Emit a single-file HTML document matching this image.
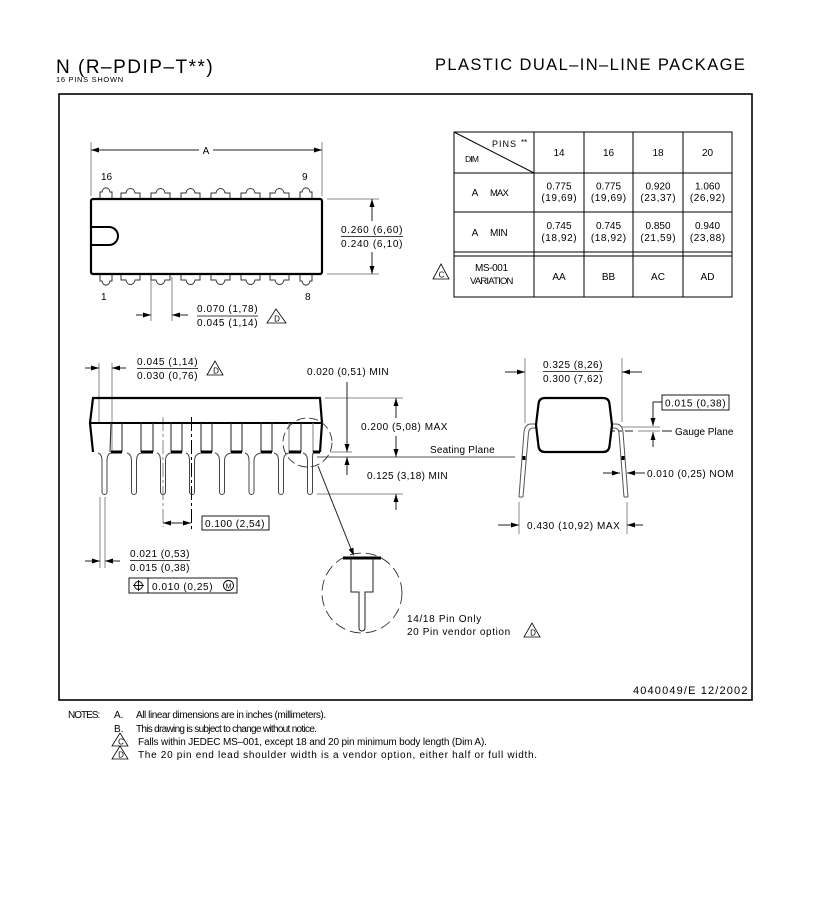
<!DOCTYPE html>
<html><head><meta charset="utf-8"><style>
html,body{margin:0;padding:0;background:#fff;}
svg{display:block;}
text{font-family:"Liberation Sans",Arial,sans-serif;fill:#000;}
</style></head><body>
<svg width="813" height="897" viewBox="0 0 813 897" xmlns="http://www.w3.org/2000/svg">
<rect x="0" y="0" width="813" height="897" fill="#fff"/>

<!-- Titles -->
<text x="56" y="73" font-size="19" letter-spacing="1.5">N (R–PDIP–T**)</text>
<text x="56" y="82" font-size="7.5" letter-spacing="0.7">16 PINS SHOWN</text>
<text x="435" y="70" font-size="16.5" letter-spacing="1.4">PLASTIC DUAL–IN–LINE PACKAGE</text>

<!-- Frame -->
<rect x="59" y="94" width="693" height="606" fill="none" stroke="#000" stroke-width="1.6"/>

<!-- ================= TOP VIEW ================= -->
<g stroke="#888" stroke-width="1" fill="none">
  <line x1="91" y1="142" x2="91" y2="196"/>
  <line x1="322" y1="142" x2="322" y2="196"/>
  <line x1="327" y1="199" x2="379" y2="199"/>
  <line x1="327" y1="274" x2="379" y2="274"/>
  <line x1="151" y1="277" x2="151" y2="321"/>
  <line x1="172" y1="277" x2="172" y2="321"/>
</g>
<g stroke="#222" stroke-width="1" fill="none">
  <line x1="91" y1="150" x2="199" y2="150"/>
  <line x1="213" y1="150" x2="322" y2="150"/>
  <line x1="372" y1="199" x2="372" y2="221"/>
  <line x1="372" y1="252" x2="372" y2="274"/>
  <line x1="136" y1="315" x2="151" y2="315"/>
  <line x1="172" y1="315" x2="188" y2="315"/>
</g>
<g fill="#000">
  <polygon points="91,150 99,147.5 99,152.5"/>
  <polygon points="322,150 314,147.5 314,152.5"/>
  <polygon points="372,199 369.5,207 374.5,207"/>
  <polygon points="372,274 369.5,266 374.5,266"/>
  <polygon points="151,315 143,312.5 143,317.5"/>
  <polygon points="172,315 180,312.5 180,317.5"/>
</g>
<text x="206" y="154" font-size="10" text-anchor="middle">A</text>
<text x="101" y="180" font-size="10">16</text>
<text x="302" y="180" font-size="10">9</text>
<text x="101" y="300" font-size="10">1</text>
<text x="305" y="300" font-size="10">8</text>

<!-- pins -->
<g stroke="#333" stroke-width="1" fill="none">
  <path d="M100,199 V192 H102 C103,186.5 109,186.5 110,192 H112 V199"/>
  <path d="M121,199 V193 H126 C127,187 134,187 135,193 H140 V199"/>
  <path d="M151,199 V193 H156 C157,187 164,187 165,193 H170 V199"/>
  <path d="M181,199 V193 H186 C187,187 194,187 195,193 H200 V199"/>
  <path d="M211,199 V193 H216 C217,187 224,187 225,193 H230 V199"/>
  <path d="M241,199 V193 H246 C247,187 254,187 255,193 H260 V199"/>
  <path d="M270,199 V193 H275 C276,187 283,187 284,193 H289 V199"/>
  <path d="M300,199 V192 H302 C303,186.5 309,186.5 310,192 H312 V199"/>
  <path d="M100,274 V281 H102 C103,286.5 109,286.5 110,281 H112 V274"/>
  <path d="M121,274 V280 H126 C127,286 134,286 135,280 H140 V274"/>
  <path d="M151,274 V280 H156 C157,286 164,286 165,280 H170 V274"/>
  <path d="M181,274 V280 H186 C187,286 194,286 195,280 H200 V274"/>
  <path d="M211,274 V280 H216 C217,286 224,286 225,280 H230 V274"/>
  <path d="M241,274 V280 H246 C247,286 254,286 255,280 H260 V274"/>
  <path d="M270,274 V280 H275 C276,286 283,286 284,280 H289 V274"/>
  <path d="M300,274 V281 H302 C303,286.5 309,286.5 310,281 H312 V274"/>
</g>
<rect x="91" y="199" width="231" height="75" rx="2" fill="#fff" stroke="#000" stroke-width="2.2"/>
<path d="M91,227 H109 A9,9 0 0 1 109,245 H91" fill="none" stroke="#000" stroke-width="2"/>

<text x="341" y="233" font-size="10" letter-spacing="0.68">0.260 (6,60)</text>
<line x1="341" y1="236.5" x2="403" y2="236.5" stroke="#000" stroke-width="0.8"/>
<text x="341" y="247" font-size="10" letter-spacing="0.68">0.240 (6,10)</text>

<text x="197" y="312" font-size="10" letter-spacing="0.6">0.070 (1,78)</text>
<line x1="197" y1="316" x2="258" y2="316" stroke="#000" stroke-width="0.8"/>
<text x="197" y="326" font-size="10" letter-spacing="0.6">0.045 (1,14)</text>
<polygon points="276,309 267,323 286,323" fill="none" stroke="#000" stroke-width="0.8"/>
<text x="277" y="321.5" font-size="8" text-anchor="middle">D</text>

<!-- ================= TABLE ================= -->
<g stroke="#000" stroke-width="1" fill="none">
  <rect x="454" y="132" width="278" height="165"/>
  <line x1="534" y1="132" x2="534" y2="297"/>
  <line x1="584" y1="132" x2="584" y2="297"/>
  <line x1="633" y1="132" x2="633" y2="297"/>
  <line x1="683" y1="132" x2="683" y2="297"/>
  <line x1="454" y1="173" x2="732" y2="173"/>
  <line x1="454" y1="212" x2="732" y2="212"/>
  <line x1="454" y1="252" x2="732" y2="252"/>
  <line x1="454" y1="256" x2="732" y2="256"/>
  <line x1="454" y1="132" x2="534" y2="173"/>
</g>
<text x="492" y="147" font-size="9" letter-spacing="1">PINS</text>
<text x="521" y="145" font-size="8">**</text>
<text x="465" y="162" font-size="8.5" letter-spacing="-0.8">DIM</text>
<g font-size="10" text-anchor="middle">
  <text x="559" y="156">14</text>
  <text x="608.5" y="156">16</text>
  <text x="658" y="156">18</text>
  <text x="707.5" y="156">20</text>

  <text x="475" y="196">A</text>
  <text x="559" y="189.5">0.775</text><text x="559.3" y="201" letter-spacing="0.6">(19,69)</text>
  <text x="608.5" y="189.5">0.775</text><text x="608.8" y="201" letter-spacing="0.6">(19,69)</text>
  <text x="658" y="189.5">0.920</text><text x="658.3" y="201" letter-spacing="0.6">(23,37)</text>
  <text x="707.5" y="189.5">1.060</text><text x="707.8" y="201" letter-spacing="0.6">(26,92)</text>

  <text x="475" y="236">A</text>
  <text x="559" y="229">0.745</text><text x="559.3" y="241" letter-spacing="0.6">(18,92)</text>
  <text x="608.5" y="229">0.745</text><text x="608.8" y="241" letter-spacing="0.6">(18,92)</text>
  <text x="658" y="229">0.850</text><text x="658.3" y="241" letter-spacing="0.6">(21,59)</text>
  <text x="707.5" y="229">0.940</text><text x="707.8" y="241" letter-spacing="0.6">(23,88)</text>

  <text x="559" y="280">AA</text>
  <text x="608.5" y="280">BB</text>
  <text x="658" y="280">AC</text>
  <text x="707.5" y="280">AD</text>
</g>
<text x="490" y="196" font-size="9.5" letter-spacing="-0.9">MAX</text>
<text x="490" y="236" font-size="10" letter-spacing="-0.3">MIN</text>
<text x="475" y="271" font-size="10" letter-spacing="-0.4">MS-001</text>
<text x="470" y="284" font-size="9.5" letter-spacing="-0.8">VARIATION</text>
<polygon points="441,264 433,279 449,279" fill="none" stroke="#000" stroke-width="0.8"/>
<text x="441.5" y="277.5" font-size="8" text-anchor="middle">C</text>

<!-- ================= SIDE VIEW ================= -->
<g stroke="#888" stroke-width="1" fill="none">
  <line x1="99" y1="363" x2="99" y2="423"/>
  <line x1="112" y1="363" x2="112" y2="451"/>
  <line x1="100" y1="497" x2="100" y2="568"/>
  <line x1="105" y1="497" x2="105" y2="568"/>
  <line x1="163" y1="417" x2="163" y2="527" stroke-dasharray="14,3,3,3"/>
  <line x1="325" y1="398" x2="403" y2="398"/>
  <line x1="330" y1="452" x2="352" y2="452"/>
  <line x1="317" y1="494" x2="403" y2="494"/>
</g>
<line x1="191.5" y1="417" x2="191.5" y2="532" stroke="#000" stroke-width="1" stroke-dasharray="14,3,3,3"/>
<line x1="317" y1="457" x2="515" y2="457" stroke="#555" stroke-width="1"/>

<path d="M93,452 L90,423 L93,398 L320,398 L322,423 L320,452" fill="none" stroke="#000" stroke-width="2.2"/>
<line x1="90" y1="423" x2="322" y2="423" stroke="#000" stroke-width="2"/>

<g stroke="#333" stroke-width="1.1" fill="none">
  <line x1="111" y1="423" x2="110" y2="452"/><line x1="122" y1="423" x2="122" y2="452"/>
  <line x1="141" y1="423" x2="141" y2="452"/><line x1="153" y1="423" x2="153" y2="452"/>
  <line x1="171" y1="423" x2="171" y2="452"/><line x1="182" y1="423" x2="182" y2="452"/>
  <line x1="201" y1="423" x2="201" y2="452"/><line x1="212" y1="423" x2="212" y2="452"/>
  <line x1="231" y1="423" x2="231" y2="452"/><line x1="242" y1="423" x2="242" y2="452"/>
  <line x1="261" y1="423" x2="261" y2="452"/><line x1="272" y1="423" x2="272" y2="452"/>
  <line x1="289" y1="423" x2="289" y2="452" stroke="#888"/><line x1="301" y1="423" x2="301" y2="452"/>
  <line x1="313" y1="423" x2="313" y2="452" stroke="#888"/>
</g>
<g stroke="#000" stroke-width="3">
  <line x1="111" y1="452" x2="122" y2="452"/>
  <line x1="141" y1="452" x2="153" y2="452"/>
  <line x1="171" y1="452" x2="182" y2="452"/>
  <line x1="201" y1="452" x2="212" y2="452"/>
  <line x1="231" y1="452" x2="242" y2="452"/>
  <line x1="261" y1="452" x2="272" y2="452"/>
  <line x1="289" y1="452" x2="301" y2="452"/>
  <line x1="313" y1="452" x2="320" y2="452"/>
</g>
<g stroke="#444" stroke-width="1" fill="none">
  <path d="M98,453 Q102,454 102,461 V492 A2.5,2.5 0 0 0 107,492 V461 Q107,454 111,453"/>
  <path d="M127,453 Q131.5,454 131.5,461 V492 A2.5,2.5 0 0 0 136.5,492 V461 Q136.5,454 141,453"/>
  <path d="M157,453 Q160.5,454 160.5,461 V492 A2.5,2.5 0 0 0 165.5,492 V461 Q165.5,454 171,453"/>
  <path d="M186,453 Q189.5,454 189.5,461 V492 A2.5,2.5 0 0 0 194.5,492 V461 Q194.5,454 201,453"/>
  <path d="M215,453 Q219.5,454 219.5,461 V492 A2.5,2.5 0 0 0 224.5,492 V461 Q224.5,454 231,453"/>
  <path d="M245,453 Q249,454 249,461 V492 A2.5,2.5 0 0 0 254,492 V461 Q254,454 261,453"/>
  <path d="M274,453 Q278.5,454 278.5,461 V492 A2.5,2.5 0 0 0 283.5,492 V461 Q283.5,454 289,453"/>
  <path d="M303,453 Q307.5,454 307.5,461 V492 A2.5,2.5 0 0 0 312.5,492 V461 Q312.5,454 313,453"/>
</g>

<g stroke="#222" stroke-width="1" fill="none">
  <line x1="85" y1="368" x2="99" y2="368"/>
  <line x1="112" y1="368" x2="126" y2="368"/>
  <line x1="85" y1="561" x2="100" y2="561"/>
  <line x1="105" y1="561" x2="120" y2="561"/>
  <line x1="163" y1="523" x2="191" y2="523"/>
  <line x1="347" y1="382" x2="347" y2="452"/>
  <line x1="347" y1="457" x2="347" y2="475"/>
  <line x1="396" y1="398" x2="396" y2="418"/>
  <line x1="396" y1="436" x2="396" y2="457"/>
  <line x1="396" y1="494" x2="396" y2="510"/>
  <line x1="318" y1="466" x2="353" y2="554"/>
</g>
<g fill="#000">
  <polygon points="99,368 91,365.5 91,370.5"/>
  <polygon points="112,368 120,365.5 120,370.5"/>
  <polygon points="100,561 92,558.5 92,563.5"/>
  <polygon points="105,561 113,558.5 113,563.5"/>
  <polygon points="163,523 171,520.5 171,525.5"/>
  <polygon points="191,523 183,520.5 183,525.5"/>
  <polygon points="347,452 344.5,444 349.5,444"/>
  <polygon points="347,457 344.5,465 349.5,465"/>
  <polygon points="396,398 393.5,406 398.5,406"/>
  <polygon points="396,457 393.5,449 398.5,449"/>
  <polygon points="396,494 393.5,502 398.5,502"/>
  <polygon points="354,556 353.35,547.65 348.71,549.51"/>
</g>

<text x="137" y="365" font-size="10" letter-spacing="0.6">0.045 (1,14)</text>
<line x1="137" y1="368.5" x2="198" y2="368.5" stroke="#000" stroke-width="0.8"/>
<text x="137" y="379" font-size="10" letter-spacing="0.6">0.030 (0,76)</text>
<polygon points="215,361 207,375 223,375" fill="none" stroke="#000" stroke-width="0.8"/>
<text x="216" y="373.5" font-size="8" text-anchor="middle">D</text>

<text x="307" y="375" font-size="10" letter-spacing="0.44">0.020 (0,51) MIN</text>
<text x="361" y="430" font-size="10" letter-spacing="0.54">0.200 (5,08) MAX</text>
<text x="430" y="453" font-size="10" letter-spacing="0.2">Seating Plane</text>
<text x="367" y="479" font-size="10" letter-spacing="0.37">0.125 (3,18) MIN</text>

<rect x="202" y="516" width="67" height="14" fill="none" stroke="#000" stroke-width="0.9"/>
<text x="205" y="527" font-size="10" letter-spacing="0.5">0.100 (2,54)</text>

<text x="130" y="557" font-size="10" letter-spacing="0.5">0.021 (0,53)</text>
<line x1="130" y1="560.5" x2="190" y2="560.5" stroke="#000" stroke-width="0.8"/>
<text x="130" y="571" font-size="10" letter-spacing="0.5">0.015 (0,38)</text>

<rect x="129" y="578" width="108" height="15" fill="none" stroke="#000" stroke-width="0.9"/>
<line x1="148" y1="578" x2="148" y2="593" stroke="#000" stroke-width="0.9"/>
<circle cx="138.5" cy="585.5" r="4" fill="none" stroke="#000" stroke-width="0.9"/>
<line x1="133" y1="585.5" x2="144" y2="585.5" stroke="#000" stroke-width="0.9"/>
<line x1="138.5" y1="580" x2="138.5" y2="591" stroke="#000" stroke-width="0.9"/>
<text x="152" y="590" font-size="10" letter-spacing="0.6">0.010 (0,25)</text>
<circle cx="228.5" cy="585.5" r="5" fill="none" stroke="#000" stroke-width="0.9"/>
<text x="228.5" y="588.5" font-size="7" text-anchor="middle">M</text>

<circle cx="307.5" cy="442.5" r="24.5" fill="none" stroke="#333" stroke-width="0.9" stroke-dasharray="9,4"/>

<circle cx="362" cy="593" r="40" fill="none" stroke="#333" stroke-width="0.9" stroke-dasharray="11,5"/>
<line x1="343" y1="558" x2="381" y2="558" stroke="#000" stroke-width="3"/>
<path d="M351,558 V592 H359 V628 A3,3 0 0 0 365,628 V592 H373 V558" fill="none" stroke="#222" stroke-width="1"/>
<text x="407" y="622" font-size="10" letter-spacing="0.67">14/18 Pin Only</text>
<text x="407" y="635" font-size="10" letter-spacing="0.6">20 Pin vendor option</text>
<polygon points="532,623 524,637 540,637" fill="none" stroke="#000" stroke-width="0.8"/>
<text x="533" y="635.5" font-size="8" text-anchor="middle">D</text>

<!-- ================= END VIEW ================= -->
<g stroke="#888" stroke-width="1" fill="none">
  <line x1="525" y1="358" x2="525" y2="423"/>
  <line x1="622" y1="358" x2="622" y2="422"/>
  <line x1="519" y1="502" x2="519" y2="534"/>
  <line x1="627" y1="502" x2="627" y2="534"/>
  <line x1="622" y1="427" x2="660" y2="427"/>
  <line x1="638" y1="431" x2="660" y2="431"/>
  <line x1="603" y1="431" x2="633" y2="431" stroke="#222" stroke-dasharray="12,3,4,3"/>
</g>
<g stroke="#555" stroke-width="1" fill="none">
  <path d="M519,497 L524,432 Q525,424 531,424 H540"/>
  <path d="M523,497 L528.5,433 Q529,428 533,428 H540"/>
  <path d="M628,497 L623,432 Q622,424 616,424 H608"/>
  <path d="M624,497 L619,433 Q618.5,428 614,428 H608"/>
  <path d="M519,497 H523 M624,497 H628"/>
</g>
<rect x="522.5" y="456" width="3" height="4" fill="#000"/>
<rect x="621.5" y="456" width="3" height="4" fill="#000"/>
<path d="M545,398 L603,398 Q609,398 609.5,404 L612,425 L609.5,446 Q609,452 603,452 L545,452 Q539,452 538.5,446 L536,425 L538.5,404 Q539,398 545,398 Z" fill="#fff" stroke="#000" stroke-width="2.2"/>

<g stroke="#222" stroke-width="1" fill="none">
  <line x1="505" y1="372" x2="525" y2="372"/>
  <line x1="622" y1="372" x2="642" y2="372"/>
  <path d="M662,402 H653 V426"/>
  <line x1="653" y1="432" x2="653" y2="447"/>
  <line x1="603" y1="473" x2="620" y2="473"/>
  <line x1="627" y1="473" x2="645" y2="473"/>
  <line x1="498" y1="525" x2="519" y2="525"/>
  <line x1="627" y1="525" x2="643" y2="525"/>
  <line x1="662" y1="431" x2="672" y2="431"/>
</g>
<g fill="#000">
  <polygon points="525,372 517,369.5 517,374.5"/>
  <polygon points="622,372 630,369.5 630,374.5"/>
  <polygon points="653,426 650.5,418 655.5,418"/>
  <polygon points="653,432 650.5,440 655.5,440"/>
  <polygon points="620,473 612,470.5 612,475.5"/>
  <polygon points="627,473 635,470.5 635,475.5"/>
  <polygon points="519,525 511,522.5 511,527.5"/>
  <polygon points="627,525 635,522.5 635,527.5"/>
</g>
<text x="543" y="368" font-size="10" letter-spacing="0.5">0.325 (8,26)</text>
<line x1="543" y1="371.5" x2="603" y2="371.5" stroke="#000" stroke-width="0.8"/>
<text x="543" y="382" font-size="10" letter-spacing="0.5">0.300 (7,62)</text>
<rect x="662" y="395" width="67" height="15" fill="none" stroke="#000" stroke-width="0.9"/>
<text x="665" y="406.5" font-size="10" letter-spacing="0.6">0.015 (0,38)</text>
<text x="675" y="435" font-size="10">Gauge Plane</text>
<text x="647" y="477" font-size="10" letter-spacing="0.44">0.010 (0,25) NOM</text>
<text x="527" y="529" font-size="10" letter-spacing="0.55">0.430 (10,92) MAX</text>

<text x="633" y="694" font-size="11" letter-spacing="1.15">4040049/E 12/2002</text>

<!-- ================= NOTES ================= -->
<text x="68" y="718" font-size="10" letter-spacing="-1">NOTES:</text>
<text x="114" y="718" font-size="10">A.</text>
<text x="136" y="718" font-size="10" letter-spacing="-0.43">All linear dimensions are in inches (millimeters).</text>
<text x="114" y="732" font-size="10">B.</text>
<text x="136" y="732" font-size="10" letter-spacing="-0.7">This drawing is subject to change without notice.</text>
<polygon points="120,733 112,746 128,746" fill="none" stroke="#000" stroke-width="0.8"/>
<text x="121" y="744.5" font-size="8" text-anchor="middle">C</text>
<text x="138" y="745" font-size="10" letter-spacing="-0.15">Falls within JEDEC MS–001, except 18 and 20 pin minimum body length (Dim A).</text>
<polygon points="120,746 112,759 128,759" fill="none" stroke="#000" stroke-width="0.8"/>
<text x="121" y="757.5" font-size="8" text-anchor="middle">D</text>
<text x="138" y="758" font-size="10" letter-spacing="0.7">The 20 pin end lead shoulder width is a vendor option, either half or full width.</text>
</svg>
</body></html>
